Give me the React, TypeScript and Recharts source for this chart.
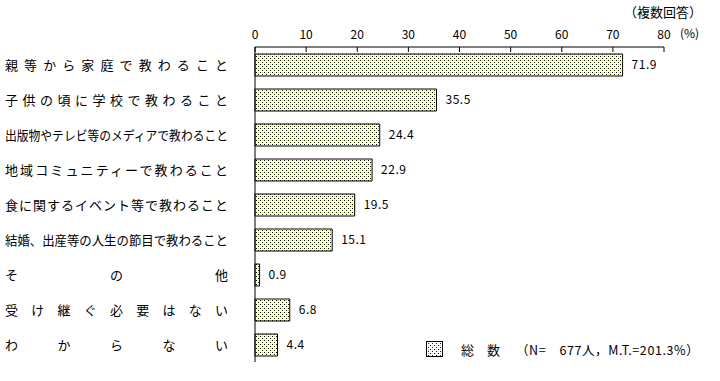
import React from 'react';
import { BarChart, Bar, XAxis, YAxis, LabelList } from 'recharts';

const categories = [
  '親等から家庭で教わること',
  '子供の頃に学校で教わること',
  '出版物やテレビ等のメディアで教わること',
  '地域コミュニティーで教わること',
  '食に関するイベント等で教わること',
  '結婚、出産等の人生の節目で教わること',
  'その他',
  '受け継ぐ必要はない',
  'わからない',
];
const values = [71.9, 35.5, 24.4, 22.9, 19.5, 15.1, 0.9, 6.8, 4.4];
const xTicks = [0, 10, 20, 30, 40, 50, 60, 70, 80];
const seriesName = '総　数';
const noteText = '（N=　677人，M.T.=201.3%）';
const topNote = '（複数回答）';
const unitText = '(%)';

const data = categories.map((c, i) => ({ name: c, value: values[i] }));

const JP = '"Noto Sans CJK JP", "Noto Sans", sans-serif';

const DotPattern = ({ id }: { id: string }) => (
  <pattern id={id} width="4" height="4" patternUnits="userSpaceOnUse">
    <rect width="4" height="4" fill="#ffffff" />
    <rect x="0" y="0" width="1" height="1" fill="#000000" />
    <rect x="2" y="2" width="1" height="1" fill="#222222" />
    <rect x="2" y="0" width="1" height="1" fill="#b8dcb0" />
    <rect x="0" y="2" width="1" height="1" fill="#f2eea0" />
  </pattern>
);

const XTick = (props: any) => {
  const { x, payload } = props;
  return (
    <g>
      <line x1={x} x2={x} y1={47} y2={52} stroke="#000" strokeWidth={1} />
      <text x={x} y={39} textAnchor="middle" fontSize={12} fontFamily={JP} fill="#000">
        {payload.value}
      </text>
    </g>
  );
};

const YTick = (props: any) => {
  const { y, payload } = props;
  const label: string = payload.value;
  const natural = label.length * 13;
  return (
    <text
      x={5}
      y={y}
      dy={5}
      fontSize={13}
      fontFamily={JP}
      fill="#000"
      textLength={223}
      lengthAdjust={natural > 223 ? 'spacingAndGlyphs' : 'spacing'}
    >
      {label}
    </text>
  );
};

const ValueLabel = (props: any) => {
  const { x, y, width, height, value } = props;
  return (
    <text
      x={x + width + 9}
      y={y + height / 2 + 4}
      fontSize={12}
      letterSpacing={0.5}
      fontFamily={JP}
      fill="#000"
    >
      {Number(value).toFixed(1)}
    </text>
  );
};

export default function App() {
  return (
    <div style={{ position: 'absolute', left: 0, top: 0, width: 720, height: 381, background: '#fff' }}>
      <BarChart
        width={720}
        height={381}
        data={data}
        layout="vertical"
        margin={{ top: 17, right: 56, bottom: 19, left: 0 }}
        barCategoryGap={13}
      >
        <defs>
          <DotPattern id="dots" />
        </defs>
        <XAxis
          type="number"
          orientation="top"
          domain={[0, 80]}
          ticks={xTicks}
          height={30}
          axisLine={{ stroke: '#000' }}
          tickLine={false}
          tick={<XTick />}
          interval={0}
        />
        <YAxis
          type="category"
          dataKey="name"
          width={255}
          axisLine={{ stroke: '#000' }}
          tickLine={false}
          tick={<YTick />}
          interval={0}
        />
        <Bar
          dataKey="value"
          name={seriesName}
          fill="url(#dots)"
          stroke="#000"
          strokeWidth={1}
          barSize={22}
          isAnimationActive={false}
        >
          <LabelList dataKey="value" content={<ValueLabel />} />
        </Bar>
      </BarChart>
      <div style={{ position: 'absolute', left: 624, top: 2, fontSize: 13, fontFamily: JP, whiteSpace: 'nowrap' }}>
        {topNote}
      </div>
      <div style={{ position: 'absolute', left: 680, top: 24, fontSize: 12, fontFamily: JP, whiteSpace: 'nowrap' }}>
        {unitText}
      </div>
      <svg style={{ position: 'absolute', left: 426, top: 341 }} width={18} height={17}>
        <defs>
          <DotPattern id="dots2" />
        </defs>
        <rect x={0.5} y={0.5} width={16} height={15} fill="url(#dots2)" stroke="#000" />
      </svg>
      <div style={{ position: 'absolute', left: 461, top: 340, fontSize: 13, fontFamily: JP, whiteSpace: 'nowrap' }}>
        {seriesName}
      </div>
      <div
        style={{
          position: 'absolute',
          left: 516,
          top: 340,
          fontSize: 12.5,
          letterSpacing: 0.6,
          fontFamily: JP,
          whiteSpace: 'nowrap',
        }}
      >
        {noteText}
      </div>
    </div>
  );
}
